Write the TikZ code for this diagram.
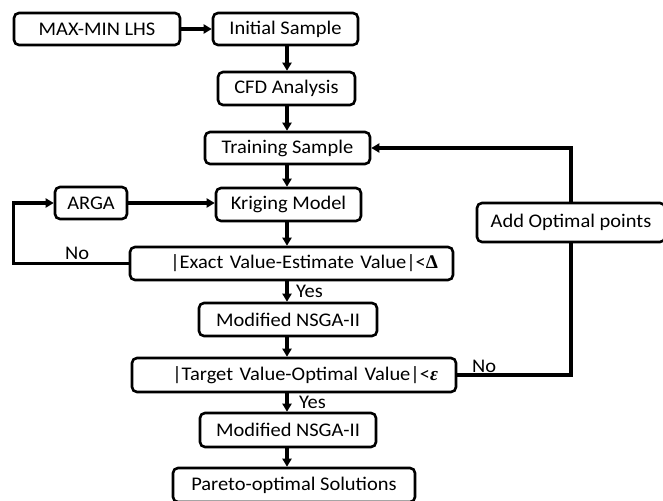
\documentclass[tikz,border=0pt]{standalone}
\usepackage[no-math]{fontspec}
\setmainfont[FakeStretch=1.06]{Carlito}
\newfontfamily\symserif{Liberation Serif}
\usetikzlibrary{arrows.meta}
\begin{document}
\begin{tikzpicture}[x=1pt,y=-1pt,
  box/.style={draw, rounded corners=5pt, line width=2.6pt, inner sep=0pt,
    font=\fontsize{19.3}{22}\selectfont},
  conn/.style={line width=3.1pt, -{Triangle[length=8pt,width=9pt]}},
  plainline/.style={line width=3.1pt},
  lab/.style={font=\fontsize{19.3}{22}\selectfont, inner sep=0pt}]
\useasboundingbox (0,0) rectangle (663,500);
\node[box, minimum width=166pt, minimum height=32pt] (maxmin) at (97,29) {MAX-MIN LHS};
\node[box, minimum width=145pt, minimum height=32pt] (init) at (285.5,29) {Initial Sample};
\node[box, minimum width=137pt, minimum height=33pt] (cfd) at (286.5,88.5) {CFD Analysis};
\node[box, minimum width=165pt, minimum height=32pt] (train) at (287.5,148) {Training Sample};
\node[box, minimum width=72pt, minimum height=32pt] (arga) at (91,203) {ARGA};
\node[box, minimum width=145pt, minimum height=33pt] (krig) at (288.5,204.5) {Kriging Model};
\node[box, minimum height=33pt, inner xsep=15pt, text width=293pt, align=right] (exact) at (291.5,263.5) {|Exact Value-Estimate Value|<{\symserif\bfseries Δ}};
\node[box, minimum width=178pt, minimum height=33pt] (nsga1) at (288,319.5) {Modified NSGA-II};
\node[box, minimum height=34pt, inner xsep=18pt, text width=288pt, align=right] (target) at (294,375) {|Target Value-Optimal Value|<{\symserif\bfseries\itshape ε}};
\node[box, minimum width=176pt, minimum height=34pt] (nsga2) at (288,430) {Modified NSGA-II};
\node[box, minimum width=242pt, minimum height=34pt] (pareto) at (294,485) {Pareto-optimal Solutions};
\node[box, minimum width=188pt, minimum height=39pt] (add) at (571,222.5) {Add Optimal points};
\coordinate (ax) at (287,0);
\draw[conn] (maxmin.east) -- (init.west);
\draw[conn] (init.south -| ax) -- (cfd.north -| ax);
\draw[conn] (cfd.south -| ax) -- (train.north -| ax);
\draw[conn] (train.south -| ax) -- (krig.north -| ax);
\draw[conn] (krig.south -| ax) -- (exact.north -| ax);
\draw[conn] (exact.south -| ax) -- (nsga1.north -| ax);
\draw[conn] (nsga1.south -| ax) -- (target.north -| ax);
\draw[conn] (target.south -| ax) -- (nsga2.north -| ax);
\draw[conn] (nsga2.south -| ax) -- (pareto.north -| ax);
\draw[conn] (arga.east) -- (arga.east -| krig.west);
\draw[conn] (exact.west) -- ++(-115,0) |- (arga.west);
\draw[plainline] (target.east) -| (add.south);
\draw[conn] (add.north) |- (train.east);
\node[lab, anchor=west] (no1) at (65,253) {No};
\node[lab, anchor=west] (no2) at (472,366) {No};
\node[lab, anchor=west] (yes1) at (296,291) {Yes};
\node[lab, anchor=west] (yes2) at (299,402) {Yes};
\end{tikzpicture}
\end{document}
